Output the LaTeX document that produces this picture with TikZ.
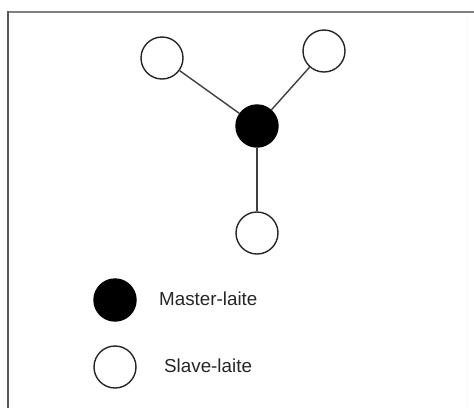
\documentclass[tikz,border=0pt]{standalone}
\usepackage{fontspec}
\setmainfont{Liberation Sans}
\begin{document}
\begin{tikzpicture}[x=1pt,y=-1pt,
  slave/.style={circle,draw=black!85,line width=1.4pt,fill=white,minimum size=42pt,inner sep=0pt},
  master/.style={circle,draw=black,line width=1.4pt,fill=black,minimum size=42pt,inner sep=0pt},
  link/.style={draw=black!75,line width=1.4pt},
  lbl/.style={font=\fontsize{18.8}{22}\selectfont,text=black!85,inner sep=0pt,anchor=west}]
\useasboundingbox (0,0) rectangle (474,408);
\fill[white] (0,0) rectangle (474,408);
\draw[black!50,line width=2pt] (8,12) -- (474,12);
\draw[black!65,line width=2pt] (8,11) -- (8,408);
\draw[black!2,line width=1pt] (467,13) -- (467,408);
\node[slave] (s1) at (162,58) {};
\node[slave] (s2) at (324,51) {};
\node[master] (m) at (257,126) {};
\node[slave] (s3) at (257,233) {};
\draw[link] (m) -- (s1);
\draw[link] (m) -- (s2);
\draw[link] (m) -- (s3);
\node[master] (lm) at (115,300) {};
\node[slave] (ls) at (115,367) {};
\node[lbl] (tm) at (159,299) {Master-laite};
\node[lbl] (ts) at (164,366) {Slave-laite};
\end{tikzpicture}
\end{document}
